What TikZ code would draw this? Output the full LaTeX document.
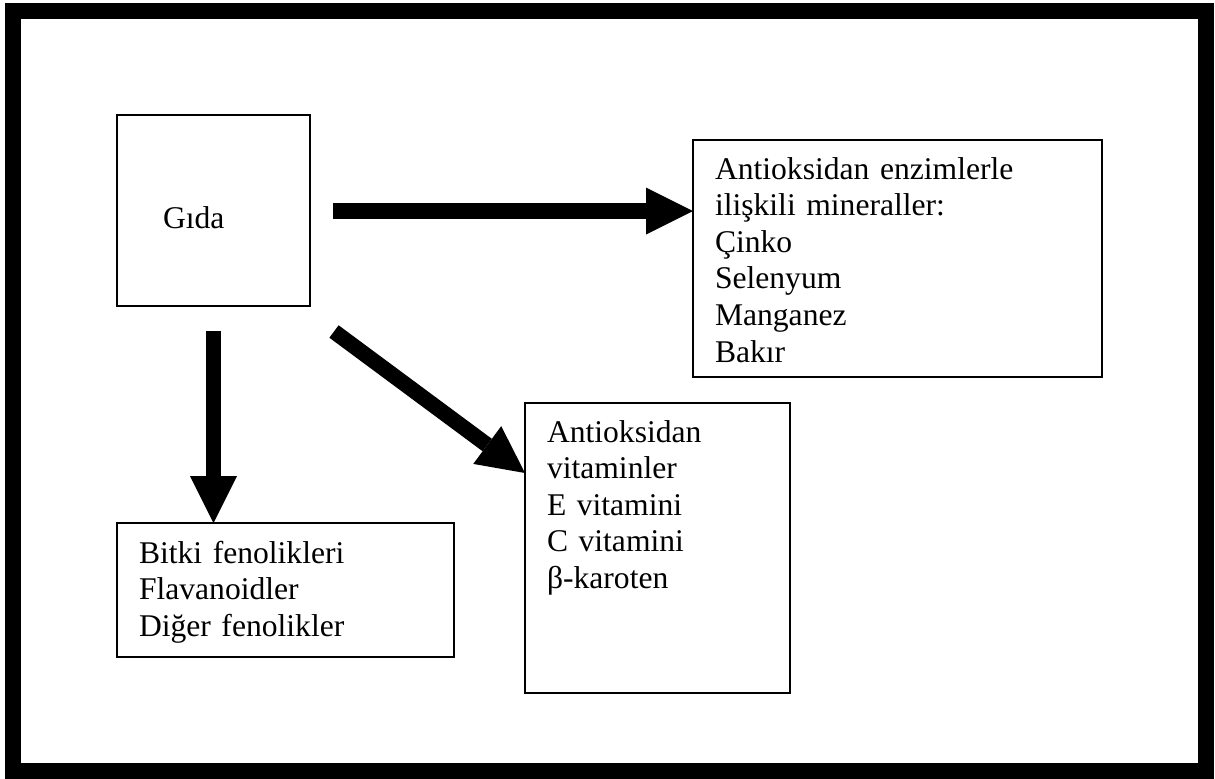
\documentclass[tikz,border=0pt]{standalone}
\usepackage{fontspec}
\setmainfont{Liberation Serif}
\usetikzlibrary{arrows.meta,positioning,calc}

\begin{document}
\begin{tikzpicture}[x=0.5pt, y=-0.5pt,
      kutu/.style={draw, line width=1pt, anchor=north west, outer sep=0pt,
        inner xsep=11pt, inner ysep=0pt, align=left,
        font=\fontsize{15.8pt}{18.3pt}\selectfont},
      kalinok/.style={line width=7.75pt,
        -{Triangle[length=23.5pt, width=23.5pt, line width=0pt]}}]
      \useasboundingbox (0,0) rectangle (1215,778);
      % outer frame
      \draw[line width=8pt] (13,11) rectangle (1205.5,770.5);

      \node[kutu, inner xsep=23pt, text width=50.5pt, text height=56.5pt,
      text depth=39pt] (gida) at (117,115) {Gıda};
      \node[kutu, text width=182.5pt, text height=19.5pt, text depth=99pt]
      (mineral) at (693,140) {Antioksidan enzimlerle\\ilişkili mineraller:\\
        Çinko\\Selenyum\\Manganez\\Bakır};
      \node[kutu, text width=110.5pt, text height=19.5pt, text depth=125.5pt]
      (vitamin) at (525,403) {Antioksidan\\vitaminler\\E vitamini\\C vitamini\\
        β-karoten};
      \node[kutu, text width=146.5pt, text height=20pt, text depth=47pt]
      (bitki) at (117,523) {Bitki fenolikleri\\Flavanoidler\\Diğer fenolikler};

      % arrows out of the food box
      \coordinate (s1) at (333,211);
      \coordinate (s2) at (213.5,331);
      \coordinate (s3) at (334,331.5);
      \draw[kalinok] (s1) -- (s1 -| mineral.west);
      \draw[kalinok] (s2) -- (s2 |- bitki.north);
      \draw[kalinok] (s3) -- ([yshift=-35pt]vitamin.north west);
    \end{tikzpicture}
\end{document}
